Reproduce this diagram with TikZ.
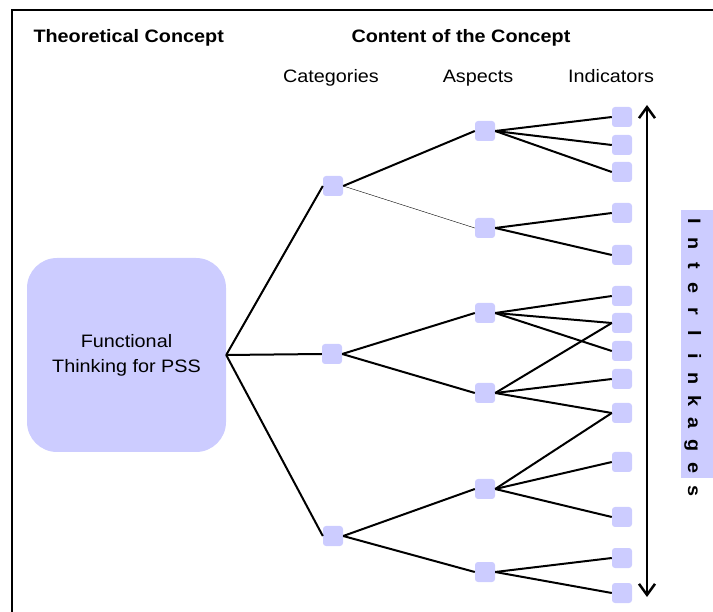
\documentclass[tikz,border=0pt]{standalone}
\usepackage{fontspec}
\setmainfont{Liberation Sans}[FakeStretch=1.1]
\usetikzlibrary{arrows.meta}
\definecolor{lavender}{HTML}{CCCCFF}

\begin{document}
\begin{tikzpicture}[
		x=1pt, y=-1pt,
		item/.style={fill=lavender, rounded corners=3pt, minimum size=20pt, inner sep=0pt},
		link/.style={line width=2pt},
		head/.style={anchor=base, font=\fontsize{18}{22}\selectfont},
		headb/.style={anchor=base, font=\fontsize{18}{22}\selectfont\bfseries},
		letter/.style={rotate=-90, anchor=base, font=\fontsize{18}{18}\selectfont\bfseries},
		barb/.tip={Straight Barb[length=11pt,width=16pt]}
	]
		\useasboundingbox (0,0) rectangle (713,612);

		%frame
		\draw[line width=2pt] (12,612) -- (12,10) -- (713,10);

		%headings
		\node[headb, anchor=base west] (theo) at (30,43) {Theoretical Concept};
		\node[headb] (content) at (461,43) {Content of the Concept};
		\node[head] (cat) at (331,83) {Categories};
		\node[head] (asp) at (478,83) {Aspects};
		\node[head] (ind) at (611,83) {Indicators};

		%concept
		\node[fill=lavender, rounded corners=30pt, minimum width=199pt, minimum height=194pt,
			align=center, font=\fontsize{18}{25}\selectfont] (main) at (126.5,355) {Functional\\Thinking for PSS};

		%categories
		\node[item] (c1) at (333,186) {};
		\node[item] (c2) at (332,354) {};
		\node[item] (c3) at (333,536) {};

		%aspects
		\foreach \n/\y in {1/131,2/228,3/313,4/393,5/489,6/572}
			\node[item] (a\n) at (485,\y) {};

		%indicators
		\foreach \n/\y in {1/117,2/145,3/172,4/213,5/255,6/296,7/323,8/351,9/379,10/413,11/462,12/517,13/558,14/593}
			\node[item] (i\n) at (622,\y) {};

		%links
		\foreach \c in {1,2,3}
			\draw[link] (main.east) -- (c\c.west);
		\draw[link] (c1.east) -- (a1.west);
		\draw[thin] (c1.east) -- (a2.west);
		\draw[link] (c2.east) -- (a3.west);
		\draw[link] (c2.east) -- (a4.west);
		\draw[link] (c3.east) -- (a5.west);
		\draw[link] (c3.east) -- (a6.west);
		\foreach \a/\i in {1/1,1/2,1/3,2/4,2/5,3/6,3/7,3/8,4/7,4/9,4/10,5/10,5/11,5/12,6/13,6/14}
			\draw[link] (a\a.east) -- (i\i.west);

		%interlinkages
		\fill[lavender] (681,210) rectangle (713,478);
		\foreach \l [count=\k from 0] in {I,n,t,e,r,l,i,n,k,a,g,e,s}
			\node[letter] (l\k) at (688,221+22.5*\k) {\l};

		%arrow
		\coordinate (top) at (647,105);
		\coordinate (bot) at (647,597);
		\draw[line width=2.5pt, barb-barb] (top) -- (bot);
	\end{tikzpicture}
\end{document}
